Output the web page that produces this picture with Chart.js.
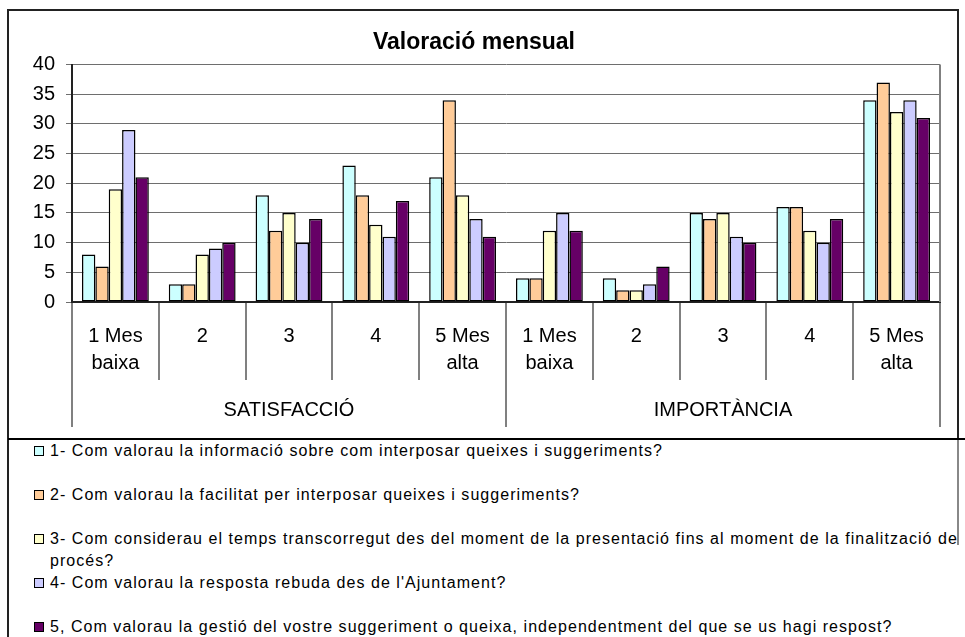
<!DOCTYPE html>
<html>
<head>
<meta charset="utf-8">
<script src="https://cdn.jsdelivr.net/npm/chart.js@4.4.1/dist/chart.umd.min.js"></script>
<style>
  body { margin: 0; width: 965px; height: 637px; background: #fff; position: relative; overflow: hidden;
         font-family: Arial, "Liberation Sans", sans-serif; }
  #wrap { position: absolute; left: 8px; top: 10px; width: 950px; height: 428px; }
  .ln { position: absolute; background: #222; }
  #legend { position: absolute; left: 8px; top: 440px; width: 957px; height: 197px; overflow: hidden; }
  .item { position: relative; height: 44px; padding-left: 42px; font-size: 16px; line-height: 22px;
          letter-spacing: 1.05px; white-space: pre; color: #000; }
  .item i { position: absolute; left: 26px; top: 6px; width: 8px; height: 8px; border: 1.5px solid #000; }
</style>
</head>
<body>
<div class="ln" style="left:8px;top:9px;width:950px;height:1.5px"></div>
<div class="ln" style="left:7px;top:9px;width:2px;height:628px"></div>
<div class="ln" style="left:957px;top:9px;width:1.5px;height:430px"></div>
<div class="ln" style="left:957px;top:439px;width:1.5px;height:106px;background:#888"></div>
<div class="ln" style="left:8px;top:438px;width:957px;height:1.5px;background:#000"></div>
<div id="wrap"><canvas id="c"></canvas></div>
<div id="legend"></div>
<script>
// categories (two levels) and values
const categories = [['1 Mes', 'baixa'], '2', '3', '4', ['5 Mes', 'alta'],
                    ['1 Mes', 'baixa'], '2', '3', '4', ['5 Mes', 'alta']];
const groups = ['SATISFACCIÓ', 'IMPORTÀNCIA'];

const q1 = [8, 3, 18, 23, 21, 4, 4, 15, 16, 34];
const q2 = [6, 3, 12, 18, 34, 4, 2, 14, 16, 37];
const q3 = [19, 8, 15, 13, 18, 12, 2, 15, 12, 32];
const q4 = [29, 9, 10, 11, 14, 15, 3, 11, 10, 34];
const q5 = [21, 10, 14, 17, 11, 12, 6, 10, 14, 31];

const seriesLabels = [
  '1- Com valorau la informació sobre com interposar queixes i suggeriments?',
  '2- Com valorau la facilitat per interposar queixes i suggeriments?',
  '3- Com considerau el temps transcorregut des del moment de la presentació fins al moment de la finalització de\nprocés?',
  "4- Com valorau la resposta rebuda des de l'Ajuntament?",
  '5, Com valorau la gestió del vostre suggeriment o queixa, independentment del que se us hagi respost?'
];
const seriesColors = ['#CCFFFF', '#FFCC99', '#FFFFCC', '#CCCCFF', '#660066'];

const yMin = 0, yMax = 40, yStep = 5;

// right edge of the plot area
const plotFrame = {
  id: 'plotFrame',
  beforeDatasetsDraw(chart) {
    const { ctx, chartArea: a } = chart;
    ctx.save();
    ctx.strokeStyle = '#808080';
    ctx.lineWidth = 2;
    ctx.beginPath();
    ctx.moveTo(a.right, a.top);
    ctx.lineTo(a.right, a.bottom);
    ctx.stroke();
    ctx.restore();
  }
};

const values = [q1, q2, q3, q4, q5];

new Chart(document.getElementById('c'), {
  type: 'bar',
  data: {
    labels: categories,
    datasets: values.map((v, i) => ({
      label: seriesLabels[i],
      data: v,
      backgroundColor: seriesColors[i],
      borderColor: '#000',
      borderWidth: 1.5,
      borderSkipped: false,
      categoryPercentage: 0.77,
      barPercentage: 1
    }))
  },
  options: {
    responsive: true,
    maintainAspectRatio: false,
    animation: false,
    layout: { padding: { left: 0, right: 18, top: 0, bottom: 11 } },
    plugins: {
      legend: { display: false },
      tooltip: { enabled: false },
      title: {
        display: true,
        text: 'Valoració mensual',
        color: '#000',
        font: { family: 'Arial, "Liberation Sans"', size: 23, weight: 'bold', lineHeight: 1.2 },
        padding: { top: 19, bottom: 8 }
      }
    },
    scales: {
      y: {
        min: yMin,
        max: yMax,
        ticks: { stepSize: yStep, color: '#000', padding: 11,
                 font: { family: 'Arial, "Liberation Sans"', size: 20 } },
        grid: { color: '#6e6e6e', lineWidth: 1, tickLength: 6 },
        border: { color: '#222', width: 2 },
        afterFit: (s) => { s.width = 64; }
      },
      x: {
        offset: true,
        ticks: { color: '#000', padding: -57.5, maxRotation: 0, autoSkip: false,
                 font: { family: 'Arial, "Liberation Sans"', size: 20, lineHeight: 1.35 } },
        grid: { offset: true, drawOnChartArea: false, color: '#808080', lineWidth: 2, tickLength: 78 },
        border: { color: '#222', width: 2 },
        afterFit: (s) => { s.height = 78; }
      },
      x2: {
        type: 'category',
        position: 'bottom',
        labels: groups,
        offset: true,
        ticks: { color: '#000', padding: -30.5, maxRotation: 0,
                 font: { family: 'Arial, "Liberation Sans"', size: 20, lineHeight: 1.35 } },
        grid: { offset: true, drawOnChartArea: false, color: '#808080', lineWidth: 2, tickLength: 47 },
        border: { display: false },
        afterFit: (s) => { s.height = 47; }
      }
    }
  },
  plugins: [plotFrame]
});

// legend below the chart
const legend = document.getElementById('legend');
seriesLabels.forEach((t, i) => {
  const d = document.createElement('div');
  d.className = 'item';
  const m = document.createElement('i');
  m.style.background = seriesColors[i];
  d.appendChild(m);
  d.appendChild(document.createTextNode(t));
  legend.appendChild(d);
});
</script>
</body>
</html>
